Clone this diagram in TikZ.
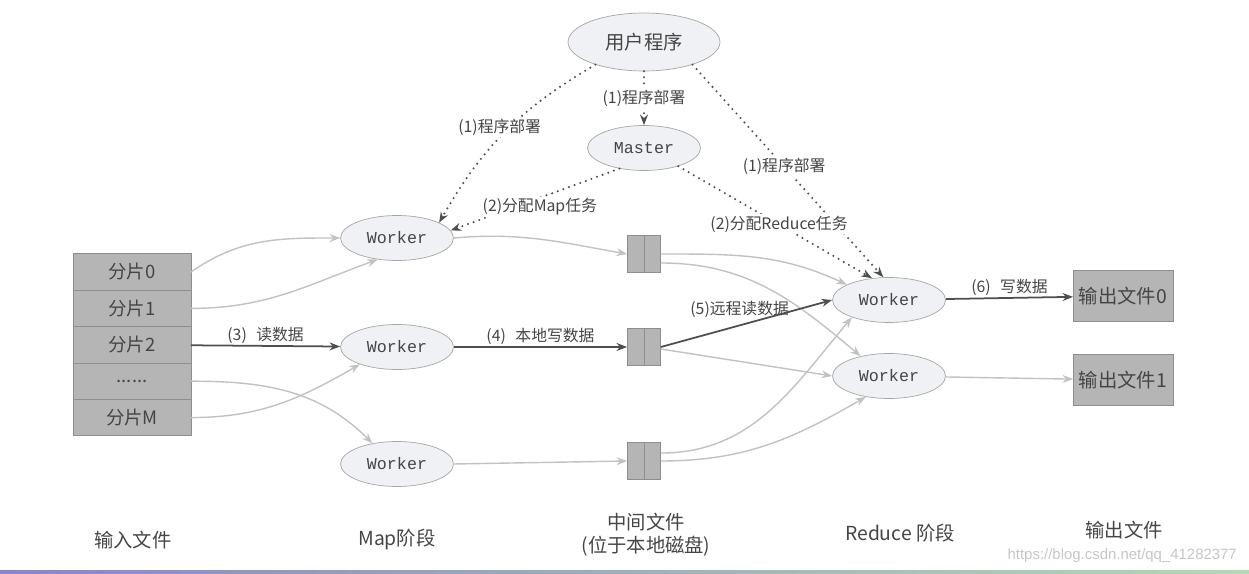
\documentclass[tikz,border=0pt]{standalone}
\usepackage{fontspec}
\setmainfont{Noto Sans CJK SC}
\newfontfamily\monofont{Liberation Mono}
\newfontfamily\urlfont{Liberation Sans}
\usetikzlibrary{arrows.meta,shapes.geometric,positioning}
\definecolor{txtgray}{HTML}{454545}
\definecolor{linegray}{HTML}{C2C2C2}
\definecolor{darkline}{HTML}{4E4E4E}
\definecolor{boxgray}{HTML}{B5B5B5}
\definecolor{boxedge}{HTML}{8E8E8E}
\definecolor{ellfill}{HTML}{EFF1F5}
\definecolor{elledge}{HTML}{A6A6A6}
\tikzset{%
    >={Stealth[length=6pt,width=4.5pt]},
    every node/.style={text=txtgray},
    job/.style={ellipse,draw=elledge,fill=ellfill,inner sep=0pt,minimum width=2.26cm,minimum height=0.9cm,font=\monofont\fontsize{9.5}{10}\selectfont},
    user/.style={job,minimum width=3.04cm,minimum height=1.16cm,font=\fontsize{11}{12}\selectfont},
    split/.style={rectangle,draw=boxedge,fill=boxgray,outer sep=0pt,minimum width=2.36cm,minimum height=0.728cm,font=\fontsize{10.5}{12}\selectfont},
    outfile/.style={split,minimum width=1.98cm,minimum height=1.02cm,font=\fontsize{11}{12}\selectfont},
    midfile/.style={rectangle,draw=boxedge,fill=boxgray,minimum width=0.66cm,minimum height=0.74cm,
        path picture={\draw[-,boxedge] (path picture bounding box.north) -- (path picture bounding box.south);}},
    lbl/.style={font=\fontsize{9}{10}\selectfont,inner sep=1pt},
    stage/.style={font=\fontsize{11}{13}\selectfont,align=center},
    cfg/.style={darkline,line width=1.3pt,dash pattern=on 0pt off 3.4pt,line cap=round},
    flow/.style={linegray,line width=0.8pt},
    main/.style={darkline,line width=1pt}
}

\begin{document}
\begin{tikzpicture}[->,x=0.02cm,y=-0.02cm]
\useasboundingbox (0,0) rectangle (1249,574);
\node [user] (usr) at (644,42) {用户程序};
\node [job] (mst) at (644,148) {Master};
\node [job] (w-1) at (397,238) {Worker};
\node [job] (w-2) at (397,347) {Worker};
\node [job] (w-3) at (397,464) {Worker};
\node [job] (rw-1) at (889,300) {Worker};
\node [job] (rw-2) at (889,376) {Worker};
%%%%%
\node [split] (s-0) at (132,272) {分片0};
\node [split,below=0pt of s-0] (s-1) {分片1};
\node [split,below=0pt of s-1] (s-2) {分片2};
\node [split,below=0pt of s-2] (s-3) {......};
\node [split,below=0pt of s-3] (s-4) {分片M};
\node [midfile] (f-1) at (644,254) {};
\node [midfile] (f-2) at (644,347) {};
\node [midfile] (f-3) at (644,461) {};
\node [outfile] (o-0) at (1123,296) {输出文件0};
\node [outfile,below=0.66cm of o-0] (o-1) {输出文件1};
%%%%%
\node [stage] (st-in) at (133,540) {输入文件};
\node [stage] (st-map) at (397,540) {Map阶段};
\node [stage] (st-mid) at (646,535) {中间文件\\(位于本地磁盘)};
\node [stage] (st-red) at (900,533) {Reduce\ 阶段};
\node [stage] (st-out) at (1124,530) {输出文件};
\node [font=\urlfont\fontsize{8.5}{10}\selectfont,text=gray!45,anchor=east] (wm) at (1243,556) {https://blog.csdn.net/qq\_41282377};
%%%%%
\draw[cfg] (usr) -- node[lbl,fill=white] {(1)程序部署} (mst);
\draw[cfg] (usr.205) to[bend right=15] node[lbl,fill=white,pos=.47,xshift=-0.2cm] {(1)程序部署} (w-1.20);
\draw[cfg] (usr.-25) -- node[lbl,fill=white,pos=.48] {(1)程序部署} (rw-1.104);
\draw[cfg] (mst.220) -- node[lbl,fill=white,pos=.62,xshift=0.5cm] {(2)分配Map任务} (w-1.8);
\draw[cfg] (mst.-28) -- node[lbl,fill=white,pos=.52] {(2)分配Reduce任务} (rw-1.128);
%%%%%
\draw[flow] (s-0.east) to[out=35,in=180] (w-1.west);
\draw[flow] (s-1.east) to[out=0,in=200] (w-1.228);
\draw[main] (s-2) -- node[lbl,above] {(3)\hspace{.6em}读数据} (w-2);
\draw[flow] (s-3.east) to[out=0,in=135] (w-3.140);
\draw[flow] (s-4.east) to[out=0,in=210] (w-2.205);
\draw[flow] (w-1.east) to[out=5,in=170] (f-1.west);
\draw[main] (w-2) -- node[lbl,above] {(4)\hspace{.6em}本地写数据} (f-2);
\draw[flow] (w-3.east) -- (f-3.west);
%%%%%
\draw[flow] (f-1.east) to[out=0,in=155] (rw-1.160);
\draw[flow] ([yshift=-0.18cm]f-1.east) to[out=0,in=140] (rw-2.145);
\draw[main] (f-2.east) -- node[lbl,above=3pt,pos=.46] {(5)远程读数据} (rw-1.west);
\draw[flow] ([yshift=-0.04cm]f-2.east) -- (rw-2.west);
\draw[flow] ([yshift=0.16cm]f-3.east) to[out=0,in=-130] (rw-1.205);
\draw[flow] (f-3.east) to[out=0,in=-150] (rw-2.222);
\draw[main] (rw-1) -- node[lbl,above] {(6)\hspace{.6em}写数据} (o-0);
\draw[flow] (rw-2) -- (o-1);
%%%%%
\shade[left color=blue!35!gray!70,right color=green!35!gray!45] (0,571) rectangle (1249,574);
\end{tikzpicture}
\end{document}
